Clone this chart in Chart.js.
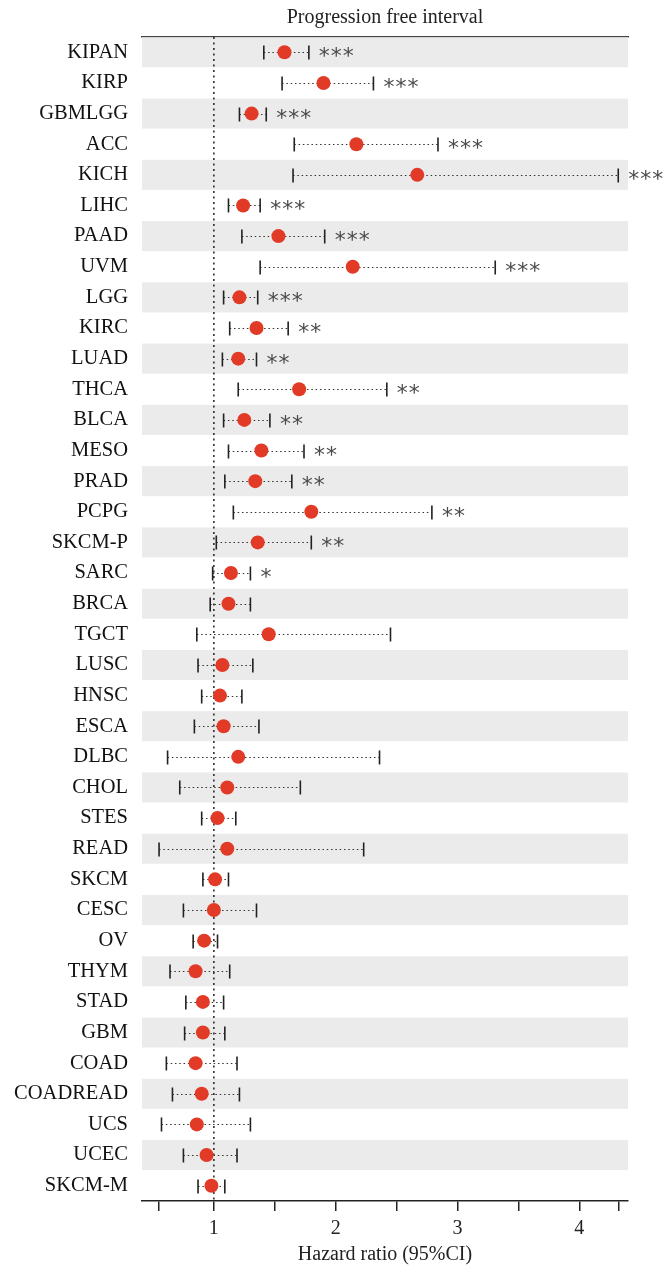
<!DOCTYPE html>
<html lang="en">
<head>
<meta charset="UTF-8">
<title>Progression free interval</title>
<script src="https://cdn.jsdelivr.net/npm/chart.js"></script>
<style>
    body { margin: 0; background: #fff; }
    #chart-container { width: 670px; height: 1269px; }
</style>
</head>
<body>
<div id="chart-container"><canvas id="forestChart"></canvas></div>
<script>
// Univariate Cox results, one row per cohort (top to bottom)
const cancerTypes = ['KIPAN', 'KIRP', 'GBMLGG', 'ACC', 'KICH', 'LIHC', 'PAAD', 'UVM', 'LGG', 'KIRC',
    'LUAD', 'THCA', 'BLCA', 'MESO', 'PRAD', 'PCPG', 'SKCM-P', 'SARC', 'BRCA', 'TGCT',
    'LUSC', 'HNSC', 'ESCA', 'DLBC', 'CHOL', 'STES', 'READ', 'SKCM', 'CESC', 'OV',
    'THYM', 'STAD', 'GBM', 'COAD', 'COADREAD', 'UCS', 'UCEC', 'SKCM-M'];
const hazardRatio = [1.58, 1.90, 1.31, 2.17, 2.67, 1.24, 1.53, 2.14, 1.21, 1.35,
    1.20, 1.70, 1.25, 1.39, 1.34, 1.80, 1.36, 1.14, 1.12, 1.45,
    1.07, 1.05, 1.08, 1.20, 1.11, 1.03, 1.11, 1.01, 1.00, 0.92,
    0.85, 0.91, 0.91, 0.85, 0.90, 0.86, 0.94, 0.98];
const lowerCI = [1.41, 1.56, 1.21, 1.66, 1.65, 1.12, 1.23, 1.38, 1.08, 1.13,
    1.07, 1.20, 1.08, 1.12, 1.09, 1.16, 1.02, 0.99, 0.97, 0.86,
    0.87, 0.90, 0.84, 0.62, 0.72, 0.90, 0.55, 0.91, 0.75, 0.83,
    0.64, 0.77, 0.76, 0.61, 0.66, 0.57, 0.75, 0.87];
const upperCI = [1.78, 2.31, 1.43, 2.84, 4.32, 1.38, 1.91, 3.31, 1.36, 1.61,
    1.35, 2.42, 1.46, 1.74, 1.64, 2.79, 1.80, 1.30, 1.30, 2.45,
    1.32, 1.23, 1.37, 2.36, 1.71, 1.18, 2.23, 1.12, 1.35, 1.03,
    1.13, 1.08, 1.09, 1.19, 1.21, 1.30, 1.19, 1.09];
const significance = ['***', '***', '***', '***', '***', '***', '***', '***', '***', '**',
    '**', '**', '**', '**', '**', '**', '**', '*', '', '',
    '', '', '', '', '', '', '', '', '', '',
    '', '', '', '', '', '', '', ''];

// x axis: tick marks every 0.5 plus both ends of the CI range, labels on whole numbers
const halfTicks = [1, 1.5, 2, 2.5, 3, 3.5, 4];
const tickLabels = [1, 2, 3, 4];
const axisTicks = [Math.min(...lowerCI), ...halfTicks, Math.max(...upperCI)];

const serif = 'Liberation Serif';
const dotColor = '#e13a26';

// grey band behind every other row
const rowBands = {
    id: 'rowBands',
    beforeDatasetsDraw(chart) {
        const { ctx, chartArea, scales: { y } } = chart;
        const step = chartArea.height / cancerTypes.length;
        ctx.save();
        ctx.fillStyle = '#ebebeb';
        cancerTypes.forEach((name, i) => {
            if (i % 2) return;
            const cy = y.getPixelForValue(i);
            ctx.fillRect(chartArea.left, cy - step * 0.49, chartArea.width, step * 0.98);
        });
        ctx.restore();
    }
};

// dotted reference line at HR = 1 and the dotted CI whiskers with end caps
const ciWhiskers = {
    id: 'ciWhiskers',
    beforeDatasetsDraw(chart) {
        const { ctx, chartArea, scales: { x, y } } = chart;
        ctx.save();
        const x1 = x.getPixelForValue(1);
        ctx.strokeStyle = '#222';
        ctx.lineWidth = 1.5;
        ctx.setLineDash([2, 3.5]);
        ctx.beginPath();
        ctx.moveTo(x1, chartArea.top);
        ctx.lineTo(x1, chartArea.bottom);
        ctx.stroke();

        cancerTypes.forEach((name, i) => {
            const cy = Math.round(y.getPixelForValue(i)) + 0.5;
            const xl = x.getPixelForValue(lowerCI[i]);
            const xu = x.getPixelForValue(upperCI[i]);
            ctx.setLineDash([1.5, 2.8]);
            ctx.lineWidth = 1.2;
            ctx.strokeStyle = '#333';
            ctx.beginPath();
            ctx.moveTo(xl, cy);
            ctx.lineTo(xu, cy);
            ctx.stroke();

            ctx.setLineDash([]);
            ctx.lineWidth = 1.6;
            ctx.strokeStyle = '#222';
            ctx.beginPath();
            ctx.moveTo(xl, cy - 7);
            ctx.lineTo(xl, cy + 7);
            ctx.moveTo(xu, cy - 7);
            ctx.lineTo(xu, cy + 7);
            ctx.stroke();
        });
        ctx.restore();
    }
};

// significance stars right of the upper cap
const sigStars = {
    id: 'sigStars',
    afterDatasetsDraw(chart) {
        const { ctx, scales: { x, y } } = chart;
        ctx.save();
        ctx.font = '22px "DejaVu Sans"';
        ctx.fillStyle = '#4a4a4a';
        ctx.textAlign = 'left';
        ctx.textBaseline = 'alphabetic';
        ctx.letterSpacing = '1px';
        cancerTypes.forEach((name, i) => {
            if (!significance[i]) return;
            const cy = y.getPixelForValue(i);
            ctx.fillText(significance[i], x.getPixelForValue(upperCI[i]) + 10, cy + 11);
        });
        ctx.restore();
    }
};

const ctx = document.getElementById('forestChart').getContext('2d');
new Chart(ctx, {
    type: 'scatter',
    data: {
        datasets: [{
            data: cancerTypes.map((c, i) => ({ x: hazardRatio[i], y: c })),
            backgroundColor: dotColor,
            borderWidth: 0,
            pointRadius: 7,
            pointHoverRadius: 7
        }]
    },
    options: {
        responsive: true,
        maintainAspectRatio: false,
        animation: false,
        layout: { padding: { left: 0, right: 42, top: 0, bottom: 0 } },
        plugins: {
            legend: { display: false },
            tooltip: { enabled: false }
        },
        scales: {
            x: {
                type: 'linear',
                position: 'bottom',
                min: 0.41,
                max: 4.40,
                afterBuildTicks: (scale) => {
                    scale.ticks = axisTicks.map(v => ({ value: v }));
                },
                afterFit: (scale) => { scale.height = 68; },
                ticks: {
                    autoSkip: false,
                    maxRotation: 0,
                    padding: 6,
                    color: '#222',
                    font: { family: serif, size: 20 },
                    callback: (value) => tickLabels.includes(value) ? String(value) : ''
                },
                grid: { drawOnChartArea: false, drawTicks: true, tickLength: 10, color: '#222', lineWidth: 1.5 },
                border: { display: true, color: '#222', width: 1.5 },
                title: {
                    display: true,
                    text: 'Hazard ratio (95%CI)',
                    color: '#222',
                    font: { family: serif, size: 20 },
                    padding: { top: 0, bottom: 2 }
                }
            },
            // top axis only carries the title and the upper frame line
            xTop: {
                type: 'linear',
                position: 'top',
                min: 0.41,
                max: 4.40,
                afterFit: (scale) => { scale.height = 37; },
                ticks: { display: false },
                grid: { display: false, drawTicks: false },
                border: { display: true, color: '#444', width: 1.5 },
                title: {
                    display: true,
                    text: 'Progression free interval',
                    color: '#222',
                    font: { family: serif, size: 20 },
                    padding: { top: 6, bottom: 0 }
                }
            },
            y: {
                type: 'category',
                labels: cancerTypes,
                offset: true,
                afterFit: (scale) => { scale.width = 142; },
                grid: { display: false, drawTicks: false },
                border: { display: false },
                ticks: {
                    autoSkip: false,
                    padding: 14,
                    color: '#111',
                    font: { family: serif, size: 20.5 }
                }
            }
        }
    },
    plugins: [rowBands, ciWhiskers, sigStars]
});
</script>
</body>
</html>
